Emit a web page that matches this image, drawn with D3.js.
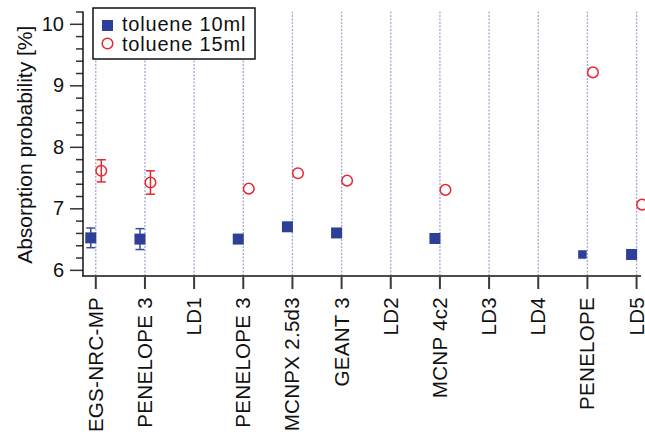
<!DOCTYPE html>
<html>
<head>
<meta charset="utf-8">
<script src="https://cdn.jsdelivr.net/npm/d3@7"></script>
<style>
  html, body { margin: 0; padding: 0; background: #fff; }
  svg { display: block; font-family: "Liberation Sans", Arial, Helvetica, sans-serif; }
</style>
</head>
<body>
<div id="chart-container"></div>
<script>
const categories = ["EGS-NRC-MP", "PENELOPE 3", "LD1", "PENELOPE 3", "MCNPX 2.5d3", "GEANT 3",
  "LD2", "MCNP 4c2", "LD3", "LD4", "PENELOPE", "LD5"];
const toluene10 = [6.52, 6.50, null, 6.50, 6.70, 6.60, null, 6.51, null, null, 6.25, 6.25];
const toluene10Err = [0.16, 0.17, null, null, null, null, null, null, null, null, null, null];
const toluene15 = [7.61, 7.42, null, 7.32, 7.57, 7.45, null, 7.30, null, null, 9.21, 7.06];
const toluene15Err = [0.18, 0.19, null, null, null, null, null, null, null, null, null, null];
const yMajorTicks = [6, 7, 8, 9, 10];
const seriesNames = ["toluene 10ml", "toluene 15ml"];

const W = 645, H = 435;
const plotLeft = 83, plotRight = 641, plotTop = 11.5, plotBottom = 276;
const blue = "#2e3f98", red = "#e8262e";

const svg = d3.select("#chart-container")
  .append("svg")
  .attr("width", W)
  .attr("height", H);

const x = d3.scaleLinear().domain([-0.26, 11.09]).range([plotLeft, plotRight]);
const y = d3.scaleLinear().domain([5.9, 10.2]).range([plotBottom, plotTop]);

// vertical dotted gridlines at every category
svg.append("g")
  .selectAll("line")
  .data(categories)
  .join("line")
  .attr("x1", (d, i) => x(i))
  .attr("x2", (d, i) => x(i))
  .attr("y1", plotTop)
  .attr("y2", plotBottom)
  .attr("stroke", "#a3a7d6")
  .attr("stroke-width", 1.3)
  .attr("stroke-dasharray", "2,1.5");

// y axis with minor ticks every 0.2
const minorTicks = d3.range(6, 10.21, 0.2).map((v) => +v.toFixed(1))
  .filter((v) => !yMajorTicks.includes(v));

const yAxis = svg.append("g").attr("transform", `translate(${plotLeft},0)`);
yAxis.call(d3.axisLeft(y).tickValues(minorTicks).tickSize(7).tickFormat(""))
  .call((g) => g.select(".domain").remove());
yAxis.append("g")
  .call(d3.axisLeft(y).tickValues(yMajorTicks).tickSize(13).tickPadding(6).tickFormat(d3.format("d")))
  .call((g) => g.select(".domain").remove());
yAxis.selectAll(".tick line").attr("stroke", "#333").attr("stroke-width", 1.5);
yAxis.selectAll(".tick text")
  .attr("fill", "#111")
  .style("font-size", "20px");
yAxis.append("line")
  .attr("y1", plotTop)
  .attr("y2", plotBottom)
  .attr("stroke", "#111")
  .attr("stroke-width", 1.5);

// x axis
const xAxis = svg.append("g").attr("transform", `translate(0,${plotBottom})`);
xAxis.append("line")
  .attr("x1", plotLeft - 1)
  .attr("x2", plotRight)
  .attr("stroke", "#111")
  .attr("stroke-width", 1.5);
xAxis.selectAll(".xtick")
  .data(categories)
  .join("line")
  .attr("class", "xtick")
  .attr("x1", (d, i) => x(i))
  .attr("x2", (d, i) => x(i))
  .attr("y1", 1)
  .attr("y2", 13)
  .attr("stroke", "#3a3a3a")
  .attr("stroke-width", 2);
xAxis.selectAll(".xlabel")
  .data(categories)
  .join("text")
  .attr("class", "xlabel")
  .attr("transform", (d, i) => `translate(${x(i) + 7},21) rotate(-90)`)
  .attr("text-anchor", "end")
  .attr("fill", "#111")
  .style("font-size", "20.5px")
  .style("letter-spacing", "0.3px")
  .text((d) => d);

// y title
svg.append("text")
  .attr("transform", `translate(32,${(plotTop + plotBottom) / 2 + 1}) rotate(-90)`)
  .attr("text-anchor", "middle")
  .attr("fill", "#111")
  .style("font-size", "21px")
  .text("Absorption probability [%]");

// error bars
const drawErrors = (vals, errs, dx, color, cls) => {
  const pts = vals.map((v, i) => ({ i, v, e: errs[i] })).filter((d) => d.v != null && d.e != null);
  const g = svg.append("g").attr("class", cls)
    .attr("stroke", color).attr("stroke-width", 1.5).attr("fill", "none");
  g.selectAll(".stem").data(pts).join("line")
    .attr("x1", (d) => x(d.i) + dx).attr("x2", (d) => x(d.i) + dx)
    .attr("y1", (d) => y(d.v - d.e)).attr("y2", (d) => y(d.v + d.e));
  g.selectAll(".capTop").data(pts).join("line")
    .attr("x1", (d) => x(d.i) + dx - 4.5).attr("x2", (d) => x(d.i) + dx + 4.5)
    .attr("y1", (d) => y(d.v + d.e)).attr("y2", (d) => y(d.v + d.e));
  g.selectAll(".capBot").data(pts).join("line")
    .attr("x1", (d) => x(d.i) + dx - 4.5).attr("x2", (d) => x(d.i) + dx + 4.5)
    .attr("y1", (d) => y(d.v - d.e)).attr("y2", (d) => y(d.v - d.e));
};
drawErrors(toluene10, toluene10Err, -5, "#3b4aa6", "err10");
drawErrors(toluene15, toluene15Err, 5.5, red, "err15");

// toluene 10ml squares (the PENELOPE one is drawn smaller in the original)
const squares = toluene10.map((v, i) => ({ i, v })).filter((d) => d.v != null);
svg.append("g")
  .selectAll("rect")
  .data(squares)
  .join("rect")
  .attr("width", (d) => (d.i === 10 ? 8.5 : 11))
  .attr("height", (d) => (d.i === 10 ? 8.5 : 11))
  .attr("x", (d) => x(d.i) - 5 - (d.i === 10 ? 4.25 : 5.5))
  .attr("y", (d) => y(d.v) - (d.i === 10 ? 4.25 : 5.5))
  .attr("fill", blue);

// toluene 15ml circles
const circles = toluene15.map((v, i) => ({ i, v })).filter((d) => d.v != null);
svg.append("g")
  .selectAll("circle")
  .data(circles)
  .join("circle")
  .attr("cx", (d) => x(d.i) + 5.5)
  .attr("cy", (d) => y(d.v))
  .attr("r", 5.3)
  .attr("fill", "none")
  .attr("stroke", red)
  .attr("stroke-width", 1.5);

// legend
const legend = svg.append("g").attr("transform", "translate(93,8)");
legend.append("rect")
  .attr("width", 162)
  .attr("height", 51)
  .attr("fill", "#fff")
  .attr("stroke", "#111")
  .attr("stroke-width", 1.5);
legend.append("rect")
  .attr("x", 9).attr("y", 12).attr("width", 11).attr("height", 11)
  .attr("fill", blue);
legend.append("circle")
  .attr("cx", 14.5).attr("cy", 35.5).attr("r", 5.3)
  .attr("fill", "none").attr("stroke", red).attr("stroke-width", 1.5);
legend.selectAll(".ltext")
  .data(seriesNames)
  .join("text")
  .attr("class", "ltext")
  .attr("x", 29)
  .attr("y", (d, i) => 23 + i * 20)
  .attr("fill", "#111")
  .style("font-size", "20px")
  .style("letter-spacing", "0.8px")
  .text((d) => d);
</script>
</body>
</html>
